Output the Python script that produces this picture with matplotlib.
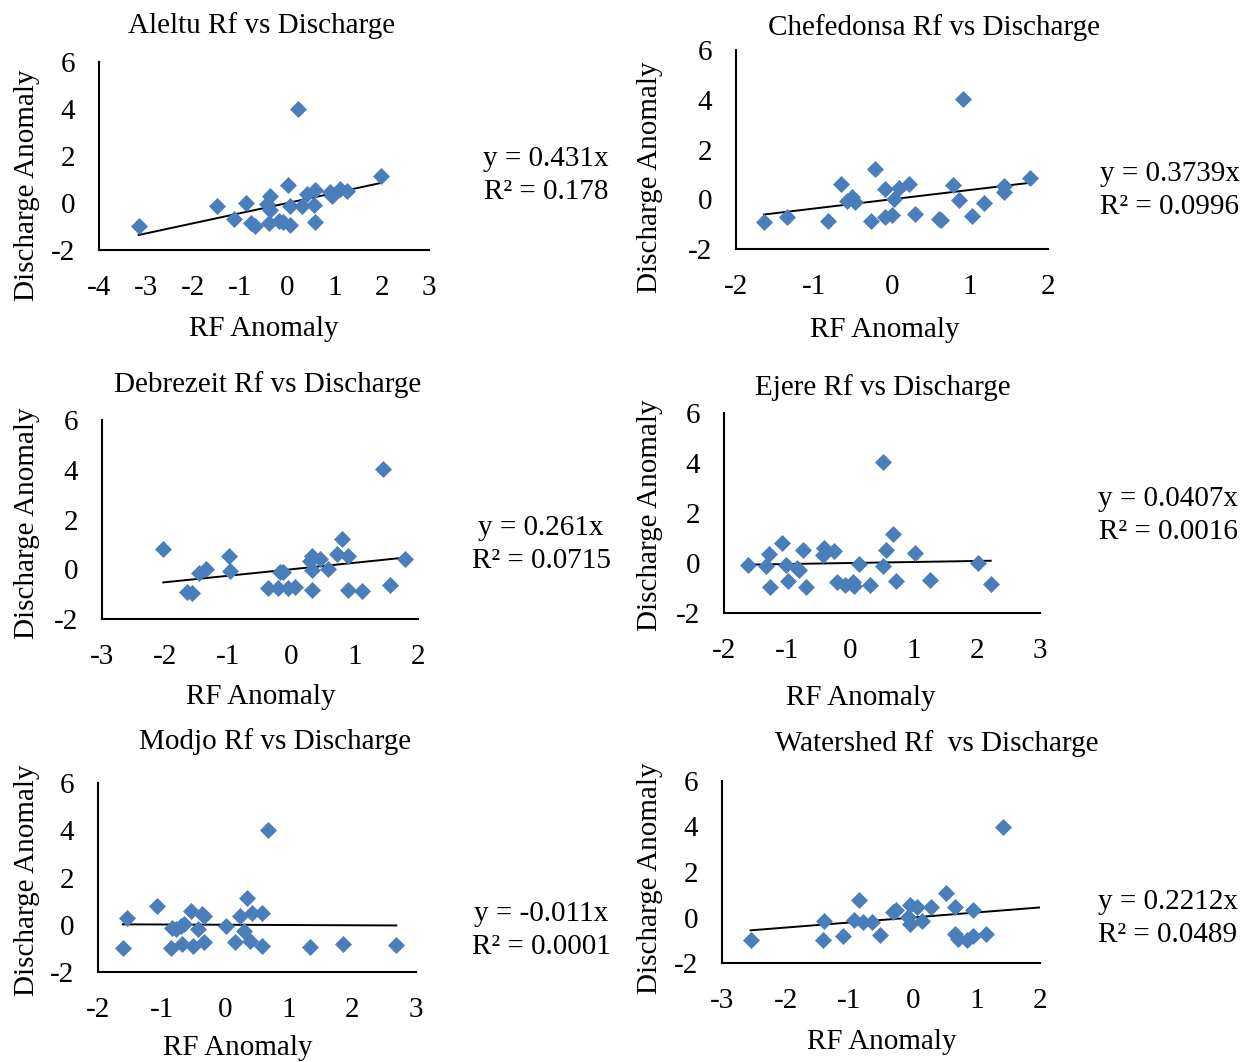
import numpy as np
import matplotlib
matplotlib.use('Agg')
import matplotlib.pyplot as plt

plt.rcParams['font.family'] = ['Liberation Serif', 'DejaVu Serif']
plt.rcParams['axes.unicode_minus'] = False

W, H = 1252, 1062

# data (RF anomaly, discharge anomaly)
aleltu_x = [-3.16, 0.23, 1.98, -1.49, -0.88, -1.14, -0.77, -0.70, -0.40, -0.37, -0.44, -0.37, -0.19,
            -0.09, 0.05, 0.00, 0.05, 0.31, 0.42, 0.58, 0.56, 0.59, 0.89, 0.94, 1.12, 1.25]
aleltu_y = [-0.96, 4.01, 1.15, -0.13, -0.01, -0.68, -0.87, -0.96, -0.87, 0.30, -0.04, -0.30, -0.75,
            -0.82, -0.94, 0.77, -0.13, -0.13, 0.38, 0.55, -0.09, -0.82, 0.48, 0.30, 0.58, 0.50]

chef_x = [-1.64, -1.35, -0.82, -0.66, -0.58, -0.51, -0.47, -0.22, -0.27, -0.09, -0.09, 0.00, 0.03,
          0.09, 0.22, 0.29, 0.60, 0.63, 0.78, 0.91, 0.86, 1.02, 1.18, 1.43, 1.43, 1.77]
chef_y = [-0.93, -0.70, -0.86, 0.60, -0.06, 0.10, -0.10, 1.20, -0.88, 0.42, -0.73, -0.63, -0.01,
          0.44, 0.61, -0.61, -0.80, -0.84, 0.58, 4.02, -0.03, -0.66, -0.17, 0.54, 0.30, 0.84]

debre_x = [-2.03, -1.66, -1.58, -1.46, -1.35, -0.99, -0.98, -0.37, -0.21, -0.19, -0.13, -0.05, 0.05,
           0.29, 0.33, 0.32, 0.33, 0.45, 0.58, 0.72, 0.80, 0.89, 0.89, 1.11, 1.45, 1.55, 1.79]
debre_y = [0.82, -0.92, -0.95, -0.17, 0.00, 0.55, -0.08, -0.75, -0.75, -0.10, -0.10, -0.75, -0.71,
           0.33, 0.53, -0.04, -0.84, 0.42, 0.03, 0.62, 1.20, 0.53, -0.82, -0.88, 4.05, -0.64, 0.42]

ejere_x = [-1.62, -1.33, -1.29, -1.28, -1.08, -1.02, -0.99, -0.85, -0.82, -0.75, -0.70, -0.43, -0.41,
           -0.26, -0.21, -0.09, 0.04, 0.06, 0.14, 0.31, 0.51, 0.56, 0.51, 0.68, 0.72, 1.02, 1.26, 2.02, 2.22]
ejere_y = [-0.07, -0.11, 0.37, -0.96, 0.80, -0.09, -0.71, -0.20, -0.27, 0.51, -0.96, 0.31, 0.60,
           0.47, -0.76, -0.87, -0.76, -0.91, -0.04, -0.87, 4.03, 0.51, -0.11, 1.16, -0.71, 0.40, -0.67, 0.00, -0.84]

modjo_x = [-1.61, -1.54, -1.07, -0.86, -0.83, -0.77, -0.70, -0.65, -0.68, -0.53, -0.51, -0.42, -0.36,
           -0.33, -0.34, 0.01, 0.15, 0.23, 0.29, 0.35, 0.42, 0.39, 0.58, 0.58, 0.68, 1.33, 1.86, 2.69]
modjo_y = [-0.98, 0.30, 0.78, -0.97, -0.12, -0.16, -0.06, 0.02, -0.80, 0.58, -0.90, -0.16, 0.47,
           0.37, -0.73, -0.05, -0.73, 0.37, -0.26, 1.14, 0.50, -0.70, 0.50, -0.90, 4.00, -0.94, -0.80, -0.87]

shed_x = [-2.55, -1.41, -1.40, -1.09, -0.92, -0.85, -0.79, -0.64, -0.52, -0.31, -0.26, -0.05, -0.07,
          -0.04, 0.06, 0.14, 0.28, 0.52, 0.66, 0.66, 0.71, 0.85, 0.94, 0.95, 1.15, 1.42]
shed_y = [-1.00, -1.00, -0.15, -0.81, -0.09, 0.76, -0.19, -0.19, -0.75, 0.25, 0.32, 0.54, 0.03,
          -0.30, 0.47, -0.15, 0.47, 1.08, 0.44, -0.74, -0.93, -0.97, -0.83, 0.35, -0.71, 3.99]

titles = ['Aleltu Rf vs Discharge', 'Chefedonsa Rf vs Discharge', 'Debrezeit Rf vs Discharge',
          'Ejere Rf vs Discharge', 'Modjo Rf vs Discharge', 'Watershed Rf  vs Discharge']
slopes = [0.431, 0.3739, 0.261, 0.0407, -0.011, 0.2212]
eq_labels = ['y = 0.431x', 'y = 0.3739x', 'y = 0.261x', 'y = 0.0407x', 'y = -0.011x', 'y = 0.2212x']
r2_labels = ['R² = 0.178', 'R² = 0.0996', 'R² = 0.0715', 'R² = 0.0016', 'R² = 0.0001', 'R² = 0.0489']
xs_all = [aleltu_x, chef_x, debre_x, ejere_x, modjo_x, shed_x]
ys_all = [aleltu_y, chef_y, debre_y, ejere_y, modjo_y, shed_y]
xlims = [(-4, 3), (-2, 2), (-3, 2), (-2, 3), (-2, 3), (-3, 2)]

# layout in pixels: plot box (left, top, right, bottom), title, ylabel, xlabel, equation centre
boxes = [(99, 62, 429, 250), (736, 50, 1048, 249), (102, 420, 418, 619),
         (724, 413, 1040, 613), (98, 783, 416, 972), (722, 781, 1040, 963)]
title_pos = [(262, 26), (934, 28), (268, 385), (883, 388), (275, 742), (937, 744)]
ylab_pos = [(27, 185), (650, 177), (27, 523), (650, 515), (27, 880), (650, 878)]
xlab_pos = [(264, 329), (885, 330), (261, 697), (861, 698), (238, 1048), (882, 1042)]
eq_pos = [(546, 159), (1170, 174), (541, 528), (1168, 499), (541, 914), (1168, 902)]

FS = 21
fig = plt.figure(figsize=(W / 100, H / 100), dpi=100)

def ftext(x, y, s, **kw):
    fig.text(x / W, 1 - y / H, s, fontsize=FS, ha='center', va='center', **kw)

for i in range(6):
    l, t, r, b = boxes[i]
    ax = fig.add_axes([l / W, 1 - b / H, (r - l) / W, (b - t) / H])
    x = np.array(xs_all[i])
    y = np.array(ys_all[i])
    ax.scatter(x, y, marker='D', s=75, color='#4a7ebb', zorder=3, linewidths=0)
    # trendline through origin
    x1 = x.max() if i != 5 else 2.0
    xl = np.array([x.min(), x1])
    ax.plot(xl, slopes[i] * xl, color='black', lw=1.4, zorder=2)
    ax.set_xlim(*xlims[i])
    ax.set_ylim(-2, 6)
    ax.set_xticks(np.arange(xlims[i][0], xlims[i][1] + 1))
    ax.set_yticks([-2, 0, 2, 4, 6])
    ax.tick_params(length=0, labelsize=FS)
    ax.tick_params(axis='x', pad=18)
    ax.tick_params(axis='y', pad=17)
    for s in ['top', 'right']:
        ax.spines[s].set_visible(False)
    for s in ['left', 'bottom']:
        ax.spines[s].set_linewidth(1.5)
    ax.set_facecolor('none')

    ftext(*title_pos[i], titles[i])
    ftext(*ylab_pos[i], 'Discharge Anomaly', rotation=90)
    ftext(*xlab_pos[i], 'RF Anomaly')
    ftext(eq_pos[i][0], eq_pos[i][1], eq_labels[i])
    ftext(eq_pos[i][0], eq_pos[i][1] + 33, r2_labels[i])

fig.savefig('out.png', dpi=100)
